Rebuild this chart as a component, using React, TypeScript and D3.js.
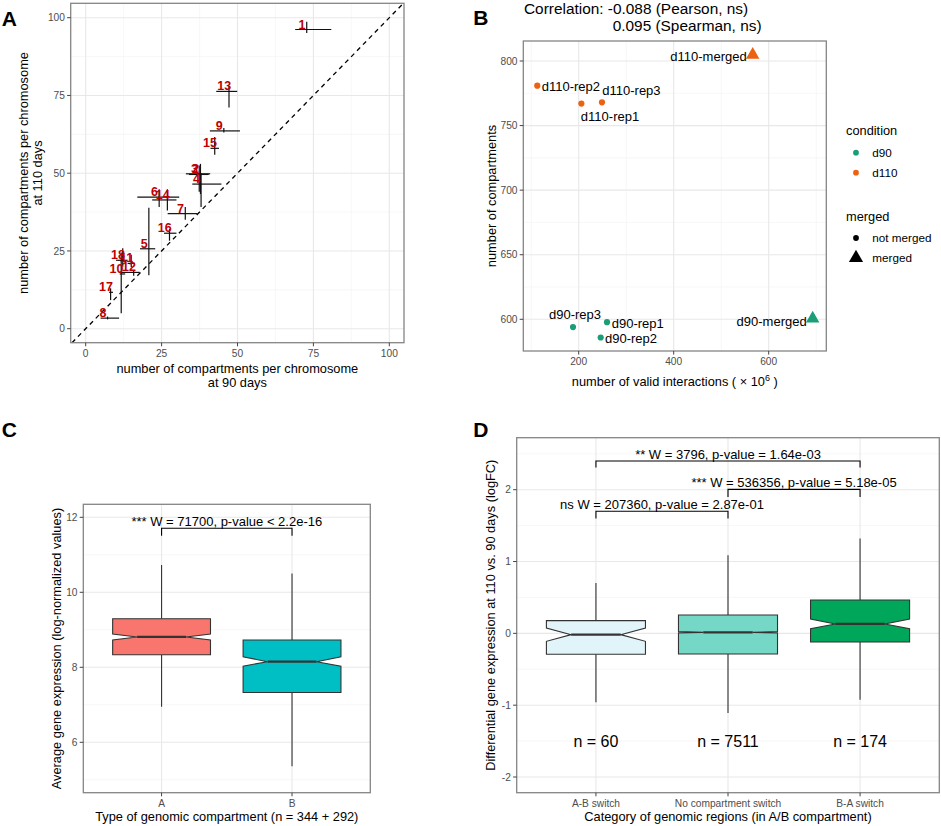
import React from 'react';
import * as d3 from 'd3';

const FONT = '"Liberation Sans", Arial, Helvetica, sans-serif';
const W = 941;
const H = 826;

// ---------------- Panel A data ----------------
const chromLabels = ['1', '2', '3', '4', '5', '6', '7', '8', '9', '10', '11', '12', '13', '14', '15', '16', '17', '18'];
const d90Mean = [72.8, 37.8, 37.4, 38.0, 20.8, 24.2, 32.8, 7.2, 45.5, 11.7, 15.0, 15.8, 47.2, 26.9, 42.5, 27.6, 8.2, 12.2];
const d90Min = [69.0, 33.0, 34.0, 35.1, 17.9, 17.0, 27.0, 4.9, 40.9, 11.2, 13.8, 11.1, 43.0, 21.9, 41.1, 25.8, 7.7, 10.0];
const d90Max = [80.9, 41.0, 40.5, 44.7, 22.9, 30.8, 36.8, 11.0, 50.8, 13.0, 16.2, 17.8, 49.9, 29.9, 43.9, 29.9, 9.0, 13.8];
const d110Mean = [96.2, 49.8, 49.6, 46.5, 25.7, 42.3, 37.0, 3.4, 63.6, 17.6, 21.0, 18.1, 76.3, 41.4, 58.0, 30.7, 11.7, 22.0];
const d110Min = [95.1, 43.3, 44.0, 39.1, 17.2, 39.1, 35.0, 3.0, 63.1, 5.0, 19.8, 17.0, 71.1, 38.0, 55.9, 28.3, 9.2, 19.9];
const d110Max = [98.7, 53.0, 52.5, 50.0, 38.9, 44.8, 39.1, 3.9, 64.5, 24.5, 23.8, 18.9, 78.1, 44.8, 61.6, 32.0, 13.0, 25.9];
const aTicks = [0, 25, 50, 75, 100];
const aMinor = [12.5, 37.5, 62.5, 87.5];

// ---------------- Panel B data ----------------
const sampleNames = ['d90-rep1', 'd90-rep2', 'd90-rep3', 'd90-merged', 'd110-rep1', 'd110-rep2', 'd110-rep3', 'd110-merged'];
const sampleCondition = ['d90', 'd90', 'd90', 'd90', 'd110', 'd110', 'd110', 'd110'];
const sampleMerged = [false, false, false, true, false, false, false, true];
const validInteractions = [259.6, 246.3, 188, 692.6, 205.6, 112.8, 249, 566.3];
const compartmentCounts = [597.8, 585.9, 594, 600.6, 767, 780.9, 768, 804.8];
const bXTicks = [200, 400, 600];
const bXMinor = [100, 300, 500, 700];
const bYTicks = [600, 650, 700, 750, 800];
const bYMinor = [625, 675, 725, 775];
const conditions = ['d90', 'd110'];
const mergedLevels = ['not merged', 'merged'];

// ---------------- Panel C data ----------------
const cCategories = ['A', 'B'];
const cWhiskerLow = [6.95, 5.36];
const cQ1 = [8.336, 7.33];
const cMedian = [8.81, 8.15];
const cQ3 = [9.296, 8.73];
const cWhiskerHigh = [10.73, 10.5];
const cNotchLow = [8.73, 8.03];
const cNotchHigh = [8.89, 8.28];
const cYTicks = [6, 8, 10, 12];
const cYMinor = [5, 7, 9, 11];
const cBracket = { from: 'A', to: 'B', y: 11.71, tip: 11.51, label: '*** W = 71700, p-value < 2.2e-16' };

// ---------------- Panel D data ----------------
const dCategories = ['A-B switch', 'No compartment switch', 'B-A switch'];
const dWhiskerLow = [-0.96, -1.11, -0.923];
const dQ1 = [-0.292, -0.287, -0.12];
const dMedian = [-0.018, 0.014, 0.131];
const dQ3 = [0.177, 0.256, 0.465];
const dWhiskerHigh = [0.70, 1.086, 1.319];
const dNotchLow = [-0.111, 0.004, 0.065];
const dNotchHigh = [0.075, 0.024, 0.2];
const dCounts = ['n = 60', 'n = 7511', 'n = 174'];
const dCountY = -1.5;
const dYTicks = [-2, -1, 0, 1, 2];
const dYMinor = [-1.5, -0.5, 0.5, 1.5, 2.5];
const dBrackets = [
  { from: 'A-B switch', to: 'B-A switch', y: 2.40, tip: 2.31, label: '** W = 3796, p-value = 1.64e-03' },
  { from: 'No compartment switch', to: 'B-A switch', y: 2.005, tip: 1.90, label: '*** W = 536356, p-value = 5.18e-05' },
  { from: 'A-B switch', to: 'No compartment switch', y: 1.70, tip: 1.60, label: 'ns W = 207360, p-value = 2.87e-01' },
];

// ---------------- styles ----------------
const GRID_MAJOR = '#E8E8E8';
const GRID_MINOR = '#F4F4F4';
const BORDER = '#858585';
const TICK_TEXT = '#4D4D4D';
const TICK_SIZE = 10.2;
const TITLE_SIZE = 12.8;
const LABEL_RED = '#C00000';
const condColor: Record<string, string> = { d90: '#1B9E77', d110: '#EC6212' };
const cFill = ['#F8766D', '#00BFC4'];
const dFill = ['#E1F4F9', '#75D7C5', '#00A65A'];
// label nudges for panel B (pixels): [dx, dy, anchor]
const bLabelNudge: [number, number, string][] = [
  [4.7, 0.7, 'start'],
  [4.3, 1, 'start'],
  [2, -12.7, 'middle'],
  [-6, 2.3, 'end'],
  [-0.5, 13, 'start'],
  [4.4, 0.3, 'start'],
  [0.3, -12.3, 'start'],
  [-6, 1.7, 'end'],
];

type Frame = { x0: number; x1: number; y0: number; y1: number };

function Grid({ f, xMajor, xMinor, yMajor, yMinor }: { f: Frame; xMajor: number[]; xMinor: number[]; yMajor: number[]; yMinor: number[] }) {
  const inX = (v: number) => v > f.x0 + 0.5 && v < f.x1 - 0.5;
  const inY = (v: number) => v > f.y0 + 0.5 && v < f.y1 - 0.5;
  return (
    <g>
      {xMinor.filter(inX).map((v, i) => <line key={'xm' + i} x1={v} x2={v} y1={f.y0} y2={f.y1} stroke={GRID_MINOR} strokeWidth={0.7} />)}
      {yMinor.filter(inY).map((v, i) => <line key={'ym' + i} x1={f.x0} x2={f.x1} y1={v} y2={v} stroke={GRID_MINOR} strokeWidth={0.7} />)}
      {xMajor.filter(inX).map((v, i) => <line key={'xM' + i} x1={v} x2={v} y1={f.y0} y2={f.y1} stroke={GRID_MAJOR} strokeWidth={1.1} />)}
      {yMajor.filter(inY).map((v, i) => <line key={'yM' + i} x1={f.x0} x2={f.x1} y1={v} y2={v} stroke={GRID_MAJOR} strokeWidth={1.1} />)}
    </g>
  );
}

function Axes({ f, xTicks, yTicks, size = TICK_SIZE }: { f: Frame; xTicks: { pos: number; label: string }[]; yTicks: { pos: number; label: string }[]; size?: number }) {
  return (
    <g fontSize={size} fill={TICK_TEXT}>
      {xTicks.map((t, i) => (
        <g key={'xt' + i}>
          <line x1={t.pos} x2={t.pos} y1={f.y1} y2={f.y1 + 3.6} stroke="#444" strokeWidth={1} />
          <text x={t.pos} y={f.y1 + 14.3} textAnchor="middle">{t.label}</text>
        </g>
      ))}
      {yTicks.map((t, i) => (
        <g key={'yt' + i}>
          <line x1={f.x0 - 3.6} x2={f.x0} y1={t.pos} y2={t.pos} stroke="#444" strokeWidth={1} />
          <text x={f.x0 - 5.8} y={t.pos} dy="0.36em" textAnchor="end">{t.label}</text>
        </g>
      ))}
    </g>
  );
}

function Border({ f }: { f: Frame }) {
  return <rect x={f.x0} y={f.y0} width={f.x1 - f.x0} height={f.y1 - f.y0} fill="none" stroke={BORDER} strokeWidth={1.3} />;
}

function PanelA() {
  const f: Frame = { x0: 70.7, x1: 404, y0: 3.3, y1: 342.7 };
  const x = d3.scaleLinear().domain([0, 100]).range([85.7, 389.3]);
  const y = d3.scaleLinear().domain([0, 100]).range([328.7, 17.7]);
  const lo = Math.max(x.invert(f.x0), y.invert(f.y1));
  const hi = Math.min(x.invert(f.x1), y.invert(f.y0));
  return (
    <g>
      <rect x={f.x0} y={f.y0} width={f.x1 - f.x0} height={f.y1 - f.y0} fill="white" />
      <Grid f={f} xMajor={aTicks.map(x)} xMinor={aMinor.map(x)} yMajor={aTicks.map(y)} yMinor={aMinor.map(y)} />
      <line x1={x(lo)} y1={y(lo)} x2={x(hi)} y2={y(hi)} stroke="#000" strokeWidth={1.3} strokeDasharray="4.5,4" />
      <g stroke="#111" strokeWidth={1.2}>
        {chromLabels.map((c, i) => (
          <g key={c}>
            <line x1={x(d90Min[i])} x2={x(d90Max[i])} y1={y(d110Mean[i])} y2={y(d110Mean[i])} />
            <line x1={x(d90Mean[i])} x2={x(d90Mean[i])} y1={y(d110Min[i])} y2={y(d110Max[i])} />
          </g>
        ))}
      </g>
      <g fill={LABEL_RED} fontSize={12.5} fontWeight="bold" textAnchor="middle">
        {chromLabels.map((c, i) => (
          <text key={c} x={x(d90Mean[i]) - 4.7} y={y(d110Mean[i]) - 1}>{c}</text>
        ))}
      </g>
      <Border f={f} />
      <Axes f={f} xTicks={aTicks.map(v => ({ pos: x(v), label: String(v) }))} yTicks={aTicks.map(v => ({ pos: y(v), label: String(v) }))} />
      <g fontSize={TITLE_SIZE} fill="#000" textAnchor="middle">
        <text x={(f.x0 + f.x1) / 2} y={368.3} dy="0.36em">number of compartments per chromosome</text>
        <text x={(f.x0 + f.x1) / 2} y={382.3} dy="0.36em">at 90 days</text>
        <text transform={`translate(23.3,${(f.y0 + f.y1) / 2}) rotate(-90)`} dy="0.36em">number of compartments per chromosome</text>
        <text transform={`translate(37.7,${(f.y0 + f.y1) / 2}) rotate(-90)`} dy="0.36em">at 110 days</text>
      </g>
      <text x={1.7} y={25.7} fontSize={21} fontWeight="bold">A</text>
    </g>
  );
}

function PanelB() {
  const f: Frame = { x0: 523.3, x1: 826.3, y0: 41, y1: 351 };
  const x = d3.scaleLinear().domain([200, 600]).range([578.7, 768.7]);
  const y = d3.scaleLinear().domain([600, 800]).range([319.3, 61]);
  const circle = d3.symbol(d3.symbolCircle, 30)() as string;
  const tri = d3.symbol(d3.symbolTriangle, 78)() as string;
  const legTri = d3.symbol(d3.symbolTriangle, 88)() as string;
  const legCircle = d3.symbol(d3.symbolCircle, 26)() as string;
  return (
    <g>
      <Grid f={f} xMajor={bXTicks.map(x)} xMinor={bXMinor.map(x)} yMajor={bYTicks.map(y)} yMinor={bYMinor.map(y)} />
      {sampleNames.map((s, i) => (
        <path key={s} d={sampleMerged[i] ? tri : circle} transform={`translate(${x(validInteractions[i])},${y(compartmentCounts[i])})`} fill={condColor[sampleCondition[i]]} />
      ))}
      <g fontSize={13} fill="#000">
        {sampleNames.map((s, i) => (
          <text key={s} x={x(validInteractions[i]) + bLabelNudge[i][0]} y={y(compartmentCounts[i]) + bLabelNudge[i][1]} dy="0.36em" textAnchor={bLabelNudge[i][2]}>{s}</text>
        ))}
      </g>
      <Border f={f} />
      <Axes f={f} xTicks={bXTicks.map(v => ({ pos: x(v), label: String(v) }))} yTicks={bYTicks.map(v => ({ pos: y(v), label: String(v) }))} />
      <g fontSize={15.4} fill="#000">
        <text x={524} y={14.3}>Correlation: -0.088 (Pearson, ns)</text>
        <text x={612.7} y={30.9}>0.095 (Spearman, ns)</text>
      </g>
      <g fontSize={TITLE_SIZE} fill="#000" textAnchor="middle">
        <text x={(f.x0 + f.x1) / 2} y={381} dy="0.36em">number of valid interactions ( × 10<tspan dy={-5} fontSize={9}>6</tspan><tspan dy={5}> )</tspan></text>
        <text transform={`translate(491,${(f.y0 + f.y1) / 2}) rotate(-90)`} dy="0.36em">number of compartments</text>
      </g>
      <g fill="#000">
        <text x={846} y={130.7} dy="0.36em" fontSize={12.8}>condition</text>
        {conditions.map((c, i) => (
          <g key={c}>
            <path d={legCircle} transform={`translate(856,${152.7 + i * 20})`} fill={condColor[c]} />
            <text x={872.3} y={152.7 + i * 20} dy="0.36em" fontSize={11.7}>{c}</text>
          </g>
        ))}
        <text x={846} y={216} dy="0.36em" fontSize={12.8}>merged</text>
        {mergedLevels.map((m, i) => (
          <g key={m}>
            <path d={i === 0 ? legCircle : legTri} transform={`translate(856,${238 + i * 20})`} fill="#000" />
            <text x={872.3} y={238 + i * 20} dy="0.36em" fontSize={11.7}>{m}</text>
          </g>
        ))}
      </g>
      <text x={473.3} y={25} fontSize={21} fontWeight="bold">B</text>
    </g>
  );
}

type BoxStats = { wl: number; q1: number; med: number; q3: number; wh: number; nl: number; nh: number };

function NotchedBox({ cx, width, s, y, fill }: { cx: number; width: number; s: BoxStats; y: d3.ScaleLinear<number, number>; fill: string }) {
  const x0 = cx - width / 2;
  const x1 = cx + width / 2;
  const m0 = cx - width / 4;
  const m1 = cx + width / 4;
  const pts: [number, number][] = [
    [x0, y(s.q3)], [x1, y(s.q3)], [x1, y(s.nh)], [m1, y(s.med)], [x1, y(s.nl)], [x1, y(s.q1)],
    [x0, y(s.q1)], [x0, y(s.nl)], [m0, y(s.med)], [x0, y(s.nh)],
  ];
  const path = d3.line()(pts) + 'Z';
  return (
    <g>
      <line x1={cx} x2={cx} y1={y(s.q3)} y2={y(s.wh)} stroke="#333" strokeWidth={1.1} />
      <line x1={cx} x2={cx} y1={y(s.q1)} y2={y(s.wl)} stroke="#333" strokeWidth={1.1} />
      <path d={path} fill={fill} stroke="#333" strokeWidth={1.1} />
      <line x1={m0} x2={m1} y1={y(s.med)} y2={y(s.med)} stroke="#333" strokeWidth={2.2} />
    </g>
  );
}

function Bracket({ x1, x2, yv, yt, label, size = 13 }: { x1: number; x2: number; yv: number; yt: number; label: string; size?: number }) {
  return (
    <g>
      <path d={`M${x1},${yt}L${x1},${yv}L${x2},${yv}L${x2},${yt}`} fill="none" stroke="#000" strokeWidth={1.1} />
      <text x={(x1 + x2) / 2} y={yv - 2} textAnchor="middle" fontSize={size} fill="#000">{label}</text>
    </g>
  );
}

function PanelC() {
  const f: Frame = { x0: 83.3, x1: 370.3, y0: 504.3, y1: 792.7 };
  const x = d3.scalePoint<string>().domain(cCategories).range([f.x0, f.x1]).padding(0.6);
  const y = d3.scaleLinear().domain([6, 12]).range([742.3, 517.3]);
  const bw = x.step() * 0.75;
  return (
    <g>
      <Grid f={f} xMajor={cCategories.map(c => x(c) as number)} xMinor={[]} yMajor={cYTicks.map(y)} yMinor={cYMinor.map(y)} />
      {cCategories.map((c, i) => (
        <NotchedBox key={c} cx={x(c) as number} width={bw} y={y} fill={cFill[i]}
          s={{ wl: cWhiskerLow[i], q1: cQ1[i], med: cMedian[i], q3: cQ3[i], wh: cWhiskerHigh[i], nl: cNotchLow[i], nh: cNotchHigh[i] }} />
      ))}
      <Bracket x1={x(cBracket.from) as number} x2={x(cBracket.to) as number} yv={y(cBracket.y)} yt={y(cBracket.tip)} label={cBracket.label} />
      <Border f={f} />
      <Axes f={f} xTicks={cCategories.map(c => ({ pos: x(c) as number, label: c }))} yTicks={cYTicks.map(v => ({ pos: y(v), label: String(v) }))} />
      <g fontSize={TITLE_SIZE} fill="#000" textAnchor="middle">
        <text x={(f.x0 + f.x1) / 2} y={816.7} dy="0.36em">Type of genomic compartment (n = 344 + 292)</text>
        <text transform={`translate(56,${(f.y0 + f.y1) / 2}) rotate(-90)`} dy="0.36em">Average gene expression (log-normalized values)</text>
      </g>
      <text x={1.7} y={437.3} fontSize={21} fontWeight="bold">C</text>
    </g>
  );
}

function PanelD() {
  const f: Frame = { x0: 516.7, x1: 939.3, y0: 437.7, y1: 792.7 };
  const x = d3.scalePoint<string>().domain(dCategories).range([f.x0, f.x1]).padding(0.6);
  const y = d3.scaleLinear().domain([-2, 2]).range([777, 489.7]);
  const bw = x.step() * 0.75;
  return (
    <g>
      <Grid f={f} xMajor={dCategories.map(c => x(c) as number)} xMinor={[]} yMajor={dYTicks.map(y)} yMinor={dYMinor.map(y)} />
      {dCategories.map((c, i) => (
        <NotchedBox key={c} cx={x(c) as number} width={bw} y={y} fill={dFill[i]}
          s={{ wl: dWhiskerLow[i], q1: dQ1[i], med: dMedian[i], q3: dQ3[i], wh: dWhiskerHigh[i], nl: dNotchLow[i], nh: dNotchHigh[i] }} />
      ))}
      {dBrackets.map((b, i) => (
        <Bracket key={i} x1={x(b.from) as number} x2={x(b.to) as number} yv={y(b.y)} yt={y(b.tip)} label={b.label} />
      ))}
      <g fontSize={16} fill="#000" textAnchor="middle">
        {dCategories.map((c, i) => (
          <text key={c} x={x(c) as number} y={y(dCountY)} dy="0.36em">{dCounts[i]}</text>
        ))}
      </g>
      <Border f={f} />
      <Axes f={f} xTicks={dCategories.map(c => ({ pos: x(c) as number, label: c }))} yTicks={dYTicks.map(v => ({ pos: y(v), label: String(v) }))} />
      <g fontSize={TITLE_SIZE} fill="#000" textAnchor="middle">
        <text x={(f.x0 + f.x1) / 2} y={816.7} dy="0.36em">Category of genomic regions (in A/B compartment)</text>
        <text transform={`translate(490.7,${(f.y0 + f.y1) / 2}) rotate(-90)`} dy="0.36em">Differential gene expression at 110 vs. 90 days (logFC)</text>
      </g>
      <text x={473.3} y={437.3} fontSize={21} fontWeight="bold">D</text>
    </g>
  );
}

export default function App() {
  return (
    <div style={{ position: 'absolute', left: 0, top: 0 }}>
      <svg width={W} height={H} viewBox={`0 0 ${W} ${H}`} style={{ display: 'block', fontFamily: FONT }}>
        <rect width={W} height={H} fill="white" />
        <PanelA />
        <PanelB />
        <PanelC />
        <PanelD />
      </svg>
    </div>
  );
}
